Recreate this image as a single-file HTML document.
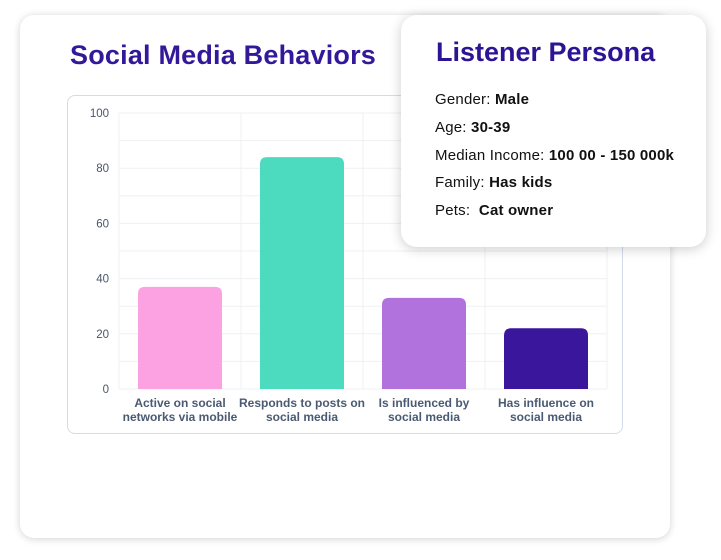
<!DOCTYPE html>
<html><head><meta charset="utf-8"><style>
body{margin:0;width:721px;height:560px;background:#fff;font-family:"Liberation Sans",sans-serif;position:relative;overflow:hidden}
.card{position:absolute;left:20px;top:15px;width:650px;height:523px;background:#fff;border-radius:14px;box-shadow:0 1px 8px rgba(0,0,0,.18)}
.title{position:absolute;left:70px;top:40px;font-size:27px;font-weight:bold;color:#33199a;letter-spacing:0.2px}
.chartbox{position:absolute;left:67px;top:95px;width:556px;height:339px;border:1px solid #d3dcea;border-radius:8px;box-sizing:border-box}
.persona{position:absolute;left:401px;top:15px;width:305px;height:232px;background:#fff;border-radius:16px;box-shadow:0 2px 12px rgba(0,0,0,.2)}
.persona h2{margin:0;position:absolute;left:35px;top:22px;font-size:27px;font-weight:bold;color:#2d1494}
.row{position:absolute;left:34px;font-size:15px;color:#111;letter-spacing:0.2px}
.row b{font-weight:bold}
</style></head><body>
<div class="card"></div>
<div class="title">Social Media Behaviors</div>
<div class="chartbox"></div>
<svg id="chart" width="721" height="560" style="position:absolute;left:0;top:0"></svg>
<div class="persona">
<h2>Listener Persona</h2>
<div class="row" style="top:76px">Gender: <b>Male</b></div>
<div class="row" style="top:104px">Age: <b>30-39</b></div>
<div class="row" style="top:132px">Median Income: <b>100 00 - 150 000k</b></div>
<div class="row" style="top:159px">Family: <b>Has kids</b></div>
<div class="row" style="top:187px">Pets:&nbsp; <b>Cat owner</b></div>
</div>
<script>
const categories=[["Active on social","networks via mobile"],["Responds to posts on","social media"],["Is influenced by","social media"],["Has influence on","social media"]];
const values=[37,84,33,22];
const colors=["#fca2e2","#4ddbbf","#b172de","#39169b"];
const yTicks=[0,20,40,60,80,100];
const svg=document.getElementById('chart');
const NS="http://www.w3.org/2000/svg";
const x0=119,x1=607,y0=389,y1=113;
const bw=(x1-x0)/categories.length;
function y(v){return y0-(v/100)*(y0-y1);}
function mk(t,a){const e=document.createElementNS(NS,t);for(const k in a)e.setAttribute(k,a[k]);svg.appendChild(e);return e;}
for(let v=0;v<=100;v+=10){const g=mk('line',{x1:x0,x2:x1,y1:y(v),y2:y(v),stroke:'#eef0f3','stroke-width':1});

}
for(let i=0;i<=categories.length;i++){const g=mk('line',{x1:x0+i*bw,x2:x0+i*bw,y1:y1,y2:y0,stroke:'#eef0f3','stroke-width':1});

}
yTicks.forEach(t=>{const e=mk('text',{x:109,y:y(t)+4,'text-anchor':'end','font-size':11.5,fill:'#4a5568'});e.textContent=t;

});
values.forEach((v,i)=>{const w=84,cx=x0+bw*(i+0.5),top=y(v),r=7;
const p=mk('path',{d:`M${cx-w/2},${y0}V${top+r}Q${cx-w/2},${top} ${cx-w/2+r},${top}H${cx+w/2-r}Q${cx+w/2},${top} ${cx+w/2},${top+r}V${y0}Z`,fill:colors[i]});


categories[i].forEach((l,j)=>{const t=mk('text',{x:cx,y:407+j*14,'text-anchor':'middle','font-size':12,'font-weight':'bold',fill:'#4a5a72'});t.textContent=l;

});});
</script>
</body></html>
